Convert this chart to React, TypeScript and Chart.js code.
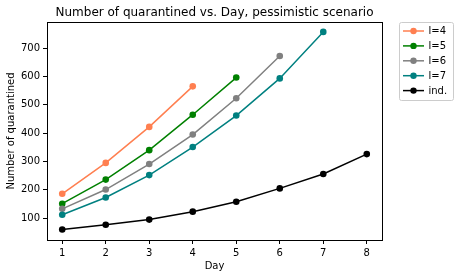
import React, { useEffect, useRef } from "react";
import { Chart, registerables } from "chart.js";
Chart.register(...registerables);

const days = [1, 2, 3, 4, 5, 6, 7, 8];
const l4 = [186, 295, 422, 565];
const l5 = [151, 236, 340, 465, 596];
const l6 = [133, 201, 291, 395, 523, 672];
const l7 = [112, 173, 252, 351, 462, 593, 757];
const ind = [60, 77, 95, 123, 158, 205, 256, 326];
const seriesNames = ["l=4", "l=5", "l=6", "l=7", "ind."];
const seriesValues = [l4, l5, l6, l7, ind];
const seriesColors = ["#ff7f50", "#008000", "#808080", "#008080", "#000000"];
const xTicks = [1, 2, 3, 4, 5, 6, 7, 8];
const yTicks = [100, 200, 300, 400, 500, 600, 700];
const titleText = "Number of quarantined vs. Day, pessimistic scenario";
const xLabel = "Day";
const yLabel = "Number of quarantined";

const FONT = "'DejaVu Sans', sans-serif";

const framePlugin = {
  id: "frameAndLegend",
  afterDraw(chart: any) {
    const ctx = chart.ctx;
    const a = chart.chartArea;
    ctx.save();
    // frame
    ctx.strokeStyle = "#000";
    ctx.lineWidth = 1;
    ctx.strokeRect(Math.round(a.left) + 0.5, Math.round(a.top) + 0.5, Math.round(a.right - a.left), Math.round(a.bottom - a.top));
    // title
    ctx.fillStyle = "#000";
    ctx.font = `12px ${FONT}`;
    ctx.textAlign = "center";
    ctx.textBaseline = "middle";
    ctx.fillText(titleText, (a.left + a.right) / 2, 13);
    // axis labels
    ctx.font = `10px ${FONT}`;
    ctx.fillText(xLabel, (a.left + a.right) / 2, 266);
    ctx.save();
    ctx.translate(11, (a.top + a.bottom) / 2);
    ctx.rotate(-Math.PI / 2);
    ctx.fillText(yLabel, 0, 0);
    ctx.restore();
    // legend
    const bx = 399.5, by = 22.5, bw = 54, bh = 78;
    ctx.beginPath();
    ctx.roundRect(bx, by, bw, bh, 2);
    ctx.fillStyle = "rgba(255,255,255,0.8)";
    ctx.fill();
    ctx.strokeStyle = "#cccccc";
    ctx.stroke();
    ctx.textAlign = "left";
    seriesNames.forEach((name, i) => {
      const y = 31 + i * 14.9;
      ctx.strokeStyle = seriesColors[i];
      ctx.lineWidth = 1.5;
      ctx.beginPath();
      ctx.moveTo(403, y);
      ctx.lineTo(424, y);
      ctx.stroke();
      ctx.fillStyle = seriesColors[i];
      ctx.beginPath();
      ctx.arc(413.5, y, 3.2, 0, Math.PI * 2);
      ctx.fill();
      ctx.fillStyle = "#000";
      ctx.fillText(name, 428.5, y + 0.5);
    });
    ctx.restore();
  },
};

export default function App() {
  const ref = useRef<HTMLCanvasElement>(null);
  useEffect(() => {
    document.body.style.margin = "0";
    Chart.defaults.font.family = FONT;
    const datasets = seriesValues.map((vals, i) => ({
      label: seriesNames[i],
      data: vals.map((v, j) => ({ x: days[j], y: v })),
      borderColor: seriesColors[i],
      backgroundColor: seriesColors[i],
      borderWidth: 1.5,
      pointRadius: 3.3,
      pointBorderWidth: 0,
      tension: 0,
      fill: false,
      order: 4 - i,
    }));
    const chart = new Chart(ref.current!, {
      type: "line",
      data: { datasets },
      options: {
        animation: false,
        responsive: false,
        layout: { padding: { top: 22, right: 78, left: 0, bottom: 0 } },
        plugins: { legend: { display: false }, title: { display: false }, tooltip: { enabled: false } },
        scales: {
          x: {
            type: "linear",
            min: 0.65,
            max: 8.35,
            afterBuildTicks: (s: any) => { s.ticks = xTicks.map((v) => ({ value: v })); },
            afterFit: (s: any) => { s.height = 38; },
            grid: { drawOnChartArea: false, drawTicks: true, tickLength: 4, color: "#000", lineWidth: 1 },
            border: { display: true, color: "#000" },
            ticks: { color: "#000", font: { size: 10 }, padding: 3, maxRotation: 0 },
          },
          y: {
            type: "linear",
            min: 23,
            max: 792,
            afterBuildTicks: (s: any) => { s.ticks = yTicks.map((v) => ({ value: v })); },
            afterFit: (s: any) => { s.width = 47; },
            grid: { drawOnChartArea: false, drawTicks: true, tickLength: 4, color: "#000", lineWidth: 1 },
            border: { display: true, color: "#000" },
            ticks: { color: "#000", font: { size: 10 }, padding: 3 },
          },
        },
      },
      plugins: [framePlugin],
    } as any);
    return () => chart.destroy();
  }, []);
  return <canvas ref={ref} width={460} height={278} style={{ display: "block", width: 460, height: 278 }} />;
}
